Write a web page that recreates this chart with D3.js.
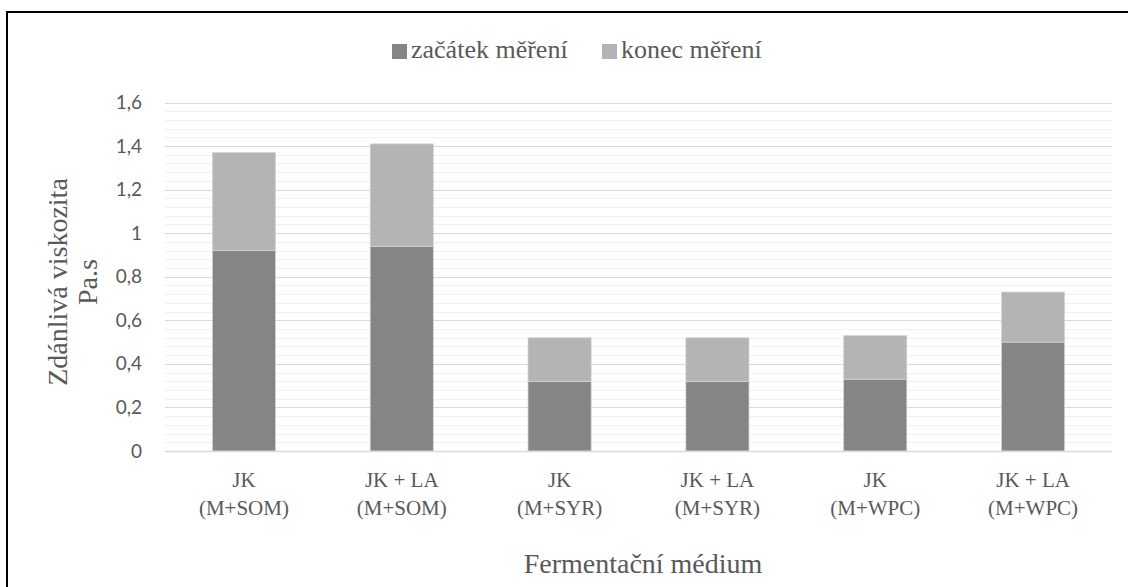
<!DOCTYPE html>
<html>
<head>
<meta charset="utf-8">
<script src="https://cdn.jsdelivr.net/npm/d3@7"></script>
<style>
  body { margin: 0; background: #fff; }
  svg { display: block; }
  .serif { font-family: "Liberation Serif", Tinos, "Times New Roman", Times, "Nimbus Roman", "Noto Serif", "DejaVu Serif", FreeSerif, serif; }
</style>
</head>
<body>
<svg id="chart" width="1128" height="587"></svg>
<script>
// Values (stacked: start + increase until end).
let categories = ["JK\n(M+SOM)", "JK + LA\n(M+SOM)", "JK\n(M+SYR)", "JK + LA\n(M+SYR)", "JK\n(M+WPC)", "JK + LA\n(M+WPC)"];
let startValues = [0.92, 0.94, 0.32, 0.32, 0.33, 0.50];
let endValues = [0.45, 0.47, 0.20, 0.20, 0.20, 0.23];
let seriesNames = ["začátek měření", "konec měření"];
let seriesColors = ["#858585", "#b4b4b4"];
let yTicks = [0, 0.2, 0.4, 0.6, 0.8, 1, 1.2, 1.4, 1.6];

let textColor = "#595959";

let svg = d3.select("#chart");

// outer frame (only top and left visible in the original)
svg.append("rect")
    .attr("x", 7).attr("y", 12)
    .attr("width", 1140).attr("height", 600)
    .attr("fill", "none")
    .attr("stroke", "#000")
    .attr("stroke-width", 2);

let x = d3.scaleBand()
    .domain(categories)
    .range([165, 1112])
    .paddingInner(0.6)
    .paddingOuter(0.3);

let y = d3.scaleLinear().domain([0, 1.6]).range([451, 102.5]);

// minor gridlines every 0.04
svg.append("g")
    .selectAll("line")
    .data(d3.range(0, 1.6001, 0.04).filter(v => Math.abs(v / 0.2 - Math.round(v / 0.2)) > 0.01))
    .enter().append("line")
    .attr("x1", 165).attr("x2", 1112)
    .attr("y1", d => Math.round(y(d)) + 0.5)
    .attr("y2", d => Math.round(y(d)) + 0.5)
    .attr("stroke", "#f0f0f0")
    .attr("stroke-width", 1);

// major gridlines
svg.append("g")
    .selectAll("line")
    .data(yTicks)
    .enter().append("line")
    .attr("x1", 165).attr("x2", 1112)
    .attr("y1", d => Math.round(y(d)) + 0.5)
    .attr("y2", d => Math.round(y(d)) + 0.5)
    .attr("stroke", "#d9d9d9")
    .attr("stroke-width", 1);

// y tick labels
let yAxis = svg.append("g")
    .attr("transform", "translate(165,0)")
    .call(d3.axisLeft(y).tickValues(yTicks).tickSize(0).tickPadding(23)
        .tickFormat(d => String(+d.toFixed(1)).replace(".", ",")));
yAxis.select(".domain").remove();
yAxis.selectAll("text")
    .attr("fill", textColor)
    .attr("font-family", "Lato, 'Open Sans', sans-serif")
    .attr("font-size", 19);

// stacked bars
let stacked = categories.map((c, i) => ({cat: c, parts: [
    {y0: 0, y1: startValues[i], color: seriesColors[0]},
    {y0: startValues[i], y1: startValues[i] + endValues[i], color: seriesColors[1]}
]}));

svg.append("g")
    .selectAll("g")
    .data(stacked)
    .enter().append("g")
    .selectAll("rect")
    .data(d => d.parts.map(p => Object.assign({cat: d.cat}, p)))
    .enter().append("rect")
    .attr("x", d => x(d.cat))
    .attr("width", x.bandwidth())
    .attr("y", d => y(d.y1))
    .attr("height", d => y(d.y0) - y(d.y1))
    .attr("fill", d => d.color)
    .attr("stroke", "#d4d4d4")
    .attr("stroke-width", 0.75);

// x axis line
svg.append("line")
    .attr("x1", 165).attr("x2", 1112)
    .attr("y1", 451.5).attr("y2", 451.5)
    .attr("stroke", "#d9d9d9")
    .attr("stroke-width", 1.5);

// x category labels (two lines)
let xl = svg.append("g")
    .selectAll("text")
    .data(categories)
    .enter().append("text")
    .attr("class", "serif")
    .attr("x", d => x(d) + x.bandwidth() / 2)
    .attr("y", 487)
    .attr("text-anchor", "middle")
    .attr("fill", textColor)
    .attr("font-size", 21);
xl.selectAll("tspan")
    .data(d => d.split("\n"))
    .enter().append("tspan")
    .attr("x", function() { return d3.select(this.parentNode).attr("x"); })
    .attr("dy", (d, i) => i === 0 ? 0 : 28)
    .text(d => d);

// axis titles
svg.append("text")
    .attr("class", "serif")
    .attr("x", 643).attr("y", 573)
    .attr("text-anchor", "middle")
    .attr("fill", textColor)
    .attr("font-size", 28)
    .text("Fermentační médium");

let yTitle = svg.append("text")
    .attr("class", "serif")
    .attr("transform", "translate(67,282) rotate(-90)")
    .attr("text-anchor", "middle")
    .attr("fill", textColor)
    .attr("font-size", 28);
yTitle.append("tspan").attr("x", 0).attr("dy", 0).text("Zdánlivá viskozita");
yTitle.append("tspan").attr("x", 0).attr("dy", 30).text("Pa.s");

// legend
let legendX = [392, 602];
let legend = svg.append("g")
    .selectAll("g")
    .data(seriesNames)
    .enter().append("g")
    .attr("transform", (d, i) => "translate(" + legendX[i] + ",44)");
legend.append("rect")
    .attr("width", 15).attr("height", 15)
    .attr("fill", (d, i) => seriesColors[i]);
legend.append("text")
    .attr("class", "serif")
    .attr("x", 19).attr("y", 14)
    .attr("fill", textColor)
    .attr("font-size", 26)
    .text(d => d);
</script>
</body>
</html>
